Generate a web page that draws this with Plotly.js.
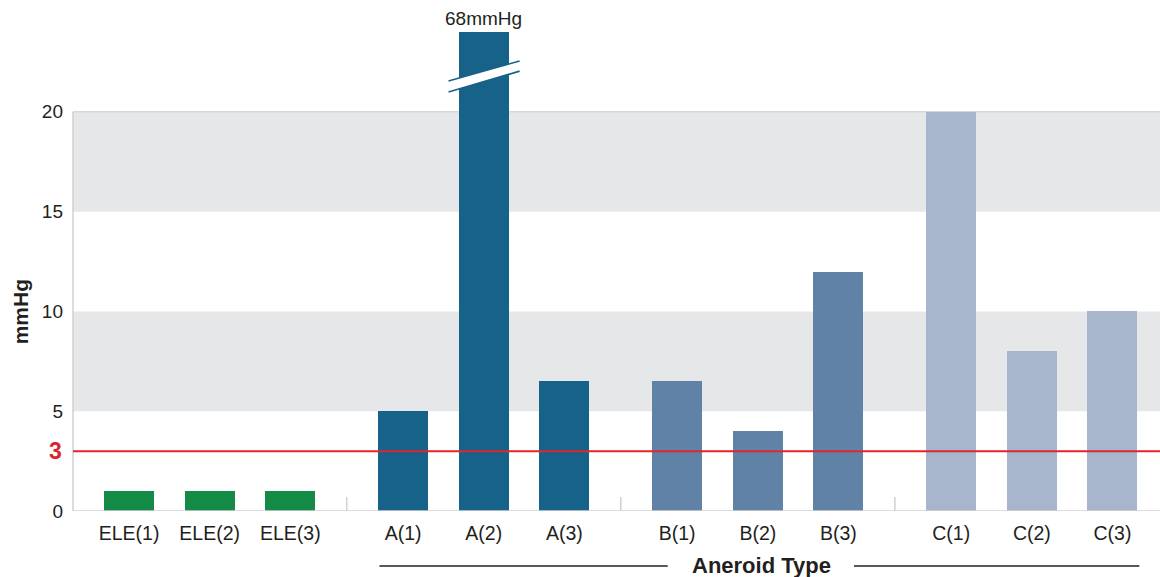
<!DOCTYPE html>
<html>
<head>
<meta charset="utf-8">
<script src="https://cdn.plot.ly/plotly-3.0.1.min.js"></script>
<style>html,body{margin:0;padding:0;background:#fff;}#chart{width:1160px;height:577px;}</style>
</head>
<body>
<div id="chart"></div>
<script>
// Data
const eleLabels = ["ELE(1)", "ELE(2)", "ELE(3)"];
const eleValues = [1, 1, 1];
const aLabels = ["A(1)", "A(2)", "A(3)"];
const aValues = [5, 68, 6.5];
const bLabels = ["B(1)", "B(2)", "B(3)"];
const bValues = [6.5, 4, 12];
const cLabels = ["C(1)", "C(2)", "C(3)"];
const cValues = [20, 8, 10];
const yTicks = [0, 5, 10, 15, 20];
const threshold = 3;
const axisMax = 24;

// positions (layout)
const eleX = [0, 1, 2];
const aX = [3.4, 4.4, 5.4];
const bX = [6.8, 7.8, 8.8];
const cX = [10.2, 11.2, 12.2];

const font = "Liberation Sans, Arial, Helvetica, sans-serif";
const txt = "#231f20";
const barW = 0.62;

function bar(x, y, color) {
  return {type: "bar", x: x, y: y, width: barW, marker: {color: color, line: {width: 0}},
          hoverinfo: "skip", showlegend: false, cliponaxis: true};
}

const traces = [
  bar(eleX, eleValues, "#138a45"),
  bar(aX, aValues, "#176289"),
  bar(bX, bValues, "#6082a6"),
  bar(cX, cValues, "#a7b6cc")
];

const xmin = -0.696, xmax = 12.79;
const shapes = [];
// gray bands
[[5, 10], [15, 20]].forEach(b => shapes.push({type: "rect", xref: "paper", x0: 0, x1: 1, y0: b[0], y1: b[1],
  fillcolor: "#e6e7e9", line: {width: 0}, layer: "below"}));
// top line of band at 20
shapes.push({type: "line", xref: "paper", x0: 0, x1: 1, y0: 20, y1: 20, line: {color: "#d6d7da", width: 1.5}, layer: "below"});
// y axis line 0-20
shapes.push({type: "line", xref: "paper", x0: 0, x1: 0, y0: 0, y1: 20, line: {color: "#d0d1d3", width: 1.5}, layer: "below"});
// baseline
shapes.push({type: "line", xref: "paper", x0: 0, x1: 1, y0: 0, y1: 0, line: {color: "#d0d1d3", width: 1.5}, layer: "above"});
// group separators
[2.7, 6.1, 9.5].forEach(s => shapes.push({type: "line", x0: s, x1: s, y0: 0, y1: 0.7, line: {color: "#cfd0d2", width: 1.5}}));
// threshold line
shapes.push({type: "line", xref: "paper", x0: 0, x1: 1, y0: threshold, y1: threshold, line: {color: "#e0262c", width: 2}, layer: "above"});
// break marks on A(2)
const bx0 = 3.963, bx1 = 4.845;
shapes.push({type: "path", path: `M ${bx0} 21.54 L ${bx1} 22.55 L ${bx1} 22.04 L ${bx0} 20.99 Z`,
  fillcolor: "#ffffff", line: {width: 0}, layer: "above"});
shapes.push({type: "line", x0: bx0, x1: bx1, y0: 21.54, y1: 22.55, line: {color: "#176289", width: 1.6}});
shapes.push({type: "line", x0: bx0, x1: bx1, y0: 20.99, y1: 22.04, line: {color: "#176289", width: 1.6}});
// Aneroid type bracket lines
shapes.push({type: "line", yref: "paper", x0: 3.106, x1: 6.683, y0: -0.1148, y1: -0.1148, line: {color: "#231f20", width: 1.5}});
shapes.push({type: "line", yref: "paper", x0: 8.994, x1: 12.534, y0: -0.1148, y1: -0.1148, line: {color: "#231f20", width: 1.5}});

const annotations = [
  {x: aX[1], y: axisMax, yanchor: "bottom", yshift: 1, text: "68mmHg", showarrow: false,
   font: {family: font, size: 19, color: txt}},
  {xref: "paper", x: 0, xanchor: "right", xshift: -9, y: threshold, yanchor: "middle", text: "<b>3</b>", showarrow: false,
   font: {family: font, size: 23, color: "#d7262e"}},
  {xref: "paper", x: -0.0488, xanchor: "center", y: 10, yanchor: "middle", text: "<b>mmHg</b>", textangle: -90, showarrow: false,
   font: {family: font, size: 21, color: txt}},
  {x: 7.85, yref: "paper", y: -0.1148, yanchor: "middle", text: "<b>Aneroid Type</b>", showarrow: false,
   font: {family: font, size: 22, color: txt}}
];

const layout = {
  width: 1160, height: 577,
  margin: {l: 73, r: 0, t: 32, b: 66},
  paper_bgcolor: "#ffffff", plot_bgcolor: "#ffffff",
  xaxis: {range: [xmin, xmax], tickvals: eleX.concat(aX, bX, cX), ticktext: eleLabels.concat(aLabels, bLabels, cLabels),
          showgrid: false, zeroline: false, showline: false, ticks: "", ticklabelstandoff: 8,
          tickfont: {family: font, size: 19.5, color: txt}, fixedrange: true},
  yaxis: {range: [0, axisMax], tickvals: yTicks, showgrid: false, zeroline: false, showline: false, ticks: "",
          ticklabelstandoff: 9, tickfont: {family: font, size: 19, color: txt}, fixedrange: true},
  shapes: shapes,
  annotations: annotations,
  bargap: 0,
  showlegend: false
};

Plotly.newPlot("chart", traces, layout, {displayModeBar: false, staticPlot: true});
</script>
</body>
</html>
